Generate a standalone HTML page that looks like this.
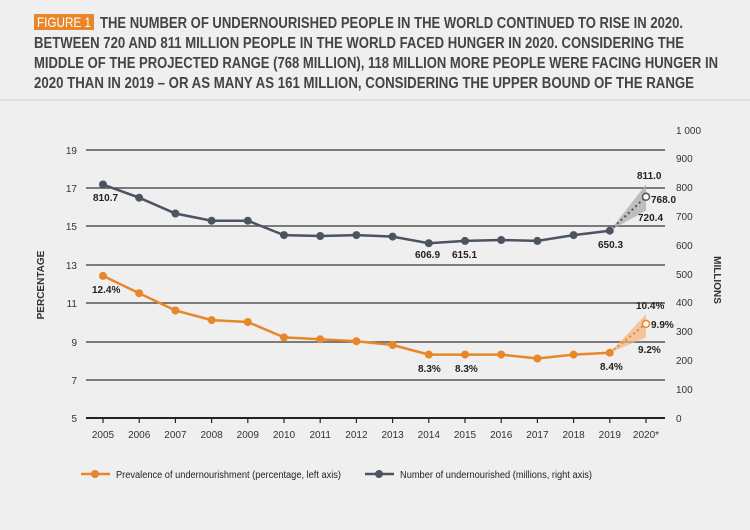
<!DOCTYPE html>
<html><head><meta charset="utf-8"><style>
html,body{margin:0;padding:0;background:#efefef;}
svg{display:block;font-family:"Liberation Sans Narrow","Liberation Sans",sans-serif;}
</style></head><body>
<svg width="750" height="530" viewBox="0 0 750 530" xmlns="http://www.w3.org/2000/svg">
<rect width="750" height="530" fill="#efefef"/>
<rect x="34" y="14" width="60" height="16" fill="#e8862a"/>
<text x="37" y="27" font-size="14" fill="#fff" textLength="54" lengthAdjust="spacingAndGlyphs">FIGURE 1</text>
<g font-size="15.5" font-weight="bold" fill="#444">
<text x="100" y="28" textLength="583" lengthAdjust="spacingAndGlyphs">THE NUMBER OF UNDERNOURISHED PEOPLE IN THE WORLD CONTINUED TO RISE IN 2020.</text>
<text x="34" y="48" textLength="650" lengthAdjust="spacingAndGlyphs">BETWEEN 720 AND 811 MILLION PEOPLE IN THE WORLD FACED HUNGER IN 2020. CONSIDERING THE</text>
<text x="34" y="68" textLength="684" lengthAdjust="spacingAndGlyphs">MIDDLE OF THE PROJECTED RANGE (768 MILLION), 118 MILLION MORE PEOPLE WERE FACING HUNGER IN</text>
<text x="34" y="88" textLength="660" lengthAdjust="spacingAndGlyphs">2020 THAN IN 2019 – OR AS MANY AS 161 MILLION, CONSIDERING THE UPPER BOUND OF THE RANGE</text>
</g>
<line x1="0" y1="100" x2="750" y2="100" stroke="#ccc" stroke-width="1"/>
<g stroke="#555" stroke-width="1.5">
<line x1="86" y1="150" x2="665" y2="150"/><line x1="86" y1="188" x2="665" y2="188"/>
<line x1="86" y1="226" x2="665" y2="226"/><line x1="86" y1="265" x2="665" y2="265"/>
<line x1="86" y1="303" x2="665" y2="303"/><line x1="86" y1="342" x2="665" y2="342"/>
<line x1="86" y1="380" x2="665" y2="380"/>
</g>
<line x1="86" y1="418" x2="665" y2="418" stroke="#222" stroke-width="2"/>
<g stroke="#222" stroke-width="1.2">
<line x1="103" y1="418" x2="103" y2="423"/><line x1="139.2" y1="418" x2="139.2" y2="423"/><line x1="175.4" y1="418" x2="175.4" y2="423"/><line x1="211.6" y1="418" x2="211.6" y2="423"/><line x1="247.8" y1="418" x2="247.8" y2="423"/><line x1="284" y1="418" x2="284" y2="423"/><line x1="320.2" y1="418" x2="320.2" y2="423"/><line x1="356.4" y1="418" x2="356.4" y2="423"/><line x1="392.6" y1="418" x2="392.6" y2="423"/><line x1="428.8" y1="418" x2="428.8" y2="423"/><line x1="465" y1="418" x2="465" y2="423"/><line x1="501.2" y1="418" x2="501.2" y2="423"/><line x1="537.4" y1="418" x2="537.4" y2="423"/><line x1="573.6" y1="418" x2="573.6" y2="423"/><line x1="609.8" y1="418" x2="609.8" y2="423"/><line x1="646" y1="418" x2="646" y2="423"/>
</g>
<g font-size="10" fill="#333" text-anchor="end">
<text x="77" y="154">19</text><text x="77" y="192">17</text><text x="77" y="230">15</text><text x="77" y="269">13</text><text x="77" y="307">11</text><text x="77" y="346">9</text><text x="77" y="384">7</text><text x="77" y="422">5</text>
</g>
<g font-size="10" fill="#333">
<text x="676" y="134">1 000</text><text x="676" y="162">900</text><text x="676" y="191">800</text><text x="676" y="220">700</text><text x="676" y="249">600</text><text x="676" y="278">500</text><text x="676" y="306">400</text><text x="676" y="335">300</text><text x="676" y="364">200</text><text x="676" y="393">100</text><text x="676" y="422">0</text>
</g>
<g font-size="10" fill="#333" text-anchor="middle">
<text x="103" y="438">2005</text><text x="139.2" y="438">2006</text><text x="175.4" y="438">2007</text><text x="211.6" y="438">2008</text><text x="247.8" y="438">2009</text><text x="284" y="438">2010</text><text x="320.2" y="438">2011</text><text x="356.4" y="438">2012</text><text x="392.6" y="438">2013</text><text x="428.8" y="438">2014</text><text x="465" y="438">2015</text><text x="501.2" y="438">2016</text><text x="537.4" y="438">2017</text><text x="573.6" y="438">2018</text><text x="609.8" y="438">2019</text><text x="646" y="438">2020*</text>
</g>
<text transform="translate(44,285) rotate(-90)" font-size="10" font-weight="bold" fill="#333" text-anchor="middle">PERCENTAGE</text>
<text transform="translate(714,280) rotate(90)" font-size="10" font-weight="bold" fill="#333" text-anchor="middle">MILLIONS</text>
<polygon points="609.8,230.7 646,184.4 646,210.5" fill="#aaa" opacity="0.7"/>
<polyline points="609.8,230.7 646,196.8" fill="none" stroke="#555" stroke-width="2" stroke-dasharray="2,3"/>
<polyline points="103,184.5 139.2,197.7 175.4,213.5 211.6,220.7 247.8,220.7 284,235.1 320.2,236 356.4,235.1 392.6,236.6 428.8,243.2 465,240.9 501.2,240 537.4,240.9 573.6,235.1 609.8,230.7" fill="none" stroke="#4b5460" stroke-width="2.5"/>
<g fill="#4b5460">
<circle cx="103" cy="184.5" r="4"/><circle cx="139.2" cy="197.7" r="4"/><circle cx="175.4" cy="213.5" r="4"/><circle cx="211.6" cy="220.7" r="4"/><circle cx="247.8" cy="220.7" r="4"/><circle cx="284" cy="235.1" r="4"/><circle cx="320.2" cy="236" r="4"/><circle cx="356.4" cy="235.1" r="4"/><circle cx="392.6" cy="236.6" r="4"/><circle cx="428.8" cy="243.2" r="4"/><circle cx="465" cy="240.9" r="4"/><circle cx="501.2" cy="240" r="4"/><circle cx="537.4" cy="240.9" r="4"/><circle cx="573.6" cy="235.1" r="4"/><circle cx="609.8" cy="230.7" r="4"/>
</g>
<circle cx="646" cy="196.8" r="3.5" fill="#fff" stroke="#4b5460" stroke-width="1.5"/>
<polygon points="609.8,352.7 646,314.3 646,337.4" fill="#f5b27a" opacity="0.7"/>
<polyline points="609.8,352.7 646,323.9" fill="none" stroke="#e8862a" stroke-width="2" stroke-dasharray="2,3"/>
<polyline points="103,275.9 139.2,293.2 175.4,310.5 211.6,320.1 247.8,322 284,337.4 320.2,339.3 356.4,341.2 392.6,345 428.8,354.6 465,354.6 501.2,354.6 537.4,358.5 573.6,354.6 609.8,352.7" fill="none" stroke="#e8862a" stroke-width="2.5"/>
<g fill="#e8862a">
<circle cx="103" cy="275.9" r="4"/><circle cx="139.2" cy="293.2" r="4"/><circle cx="175.4" cy="310.5" r="4"/><circle cx="211.6" cy="320.1" r="4"/><circle cx="247.8" cy="322" r="4"/><circle cx="284" cy="337.4" r="4"/><circle cx="320.2" cy="339.3" r="4"/><circle cx="356.4" cy="341.2" r="4"/><circle cx="392.6" cy="345" r="4"/><circle cx="428.8" cy="354.6" r="4"/><circle cx="465" cy="354.6" r="4"/><circle cx="501.2" cy="354.6" r="4"/><circle cx="537.4" cy="358.5" r="4"/><circle cx="573.6" cy="354.6" r="4"/><circle cx="609.8" cy="352.7" r="4"/>
</g>
<circle cx="646" cy="323.9" r="3.5" fill="#fff" stroke="#e8862a" stroke-width="1.5"/>
<g font-size="10" font-weight="bold" fill="#222">
<text x="93" y="201">810.7</text>
<text x="415" y="258">606.9</text><text x="452" y="258">615.1</text><text x="598" y="248">650.3</text>
<text x="637" y="179">811.0</text><text x="651" y="203">768.0</text><text x="638" y="221">720.4</text>
<text x="92" y="293">12.4%</text>
<text x="418" y="372">8.3%</text><text x="455" y="372">8.3%</text><text x="600" y="370">8.4%</text>
<text x="636" y="309">10.4%</text><text x="651" y="328">9.9%</text><text x="638" y="353">9.2%</text>
</g>
<line x1="81" y1="474" x2="110" y2="474" stroke="#e8862a" stroke-width="2.5"/><circle cx="95" cy="474" r="4" fill="#e8862a"/>
<text x="116" y="478" font-size="10" fill="#222" textLength="225" lengthAdjust="spacingAndGlyphs">Prevalence of undernourishment (percentage, left axis)</text>
<line x1="365" y1="474" x2="394" y2="474" stroke="#4b5460" stroke-width="2.5"/><circle cx="379" cy="474" r="4" fill="#4b5460"/>
<text x="400" y="478" font-size="10" fill="#222" textLength="192" lengthAdjust="spacingAndGlyphs">Number of undernourished (millions, right axis)</text>
</svg>
</body></html>
